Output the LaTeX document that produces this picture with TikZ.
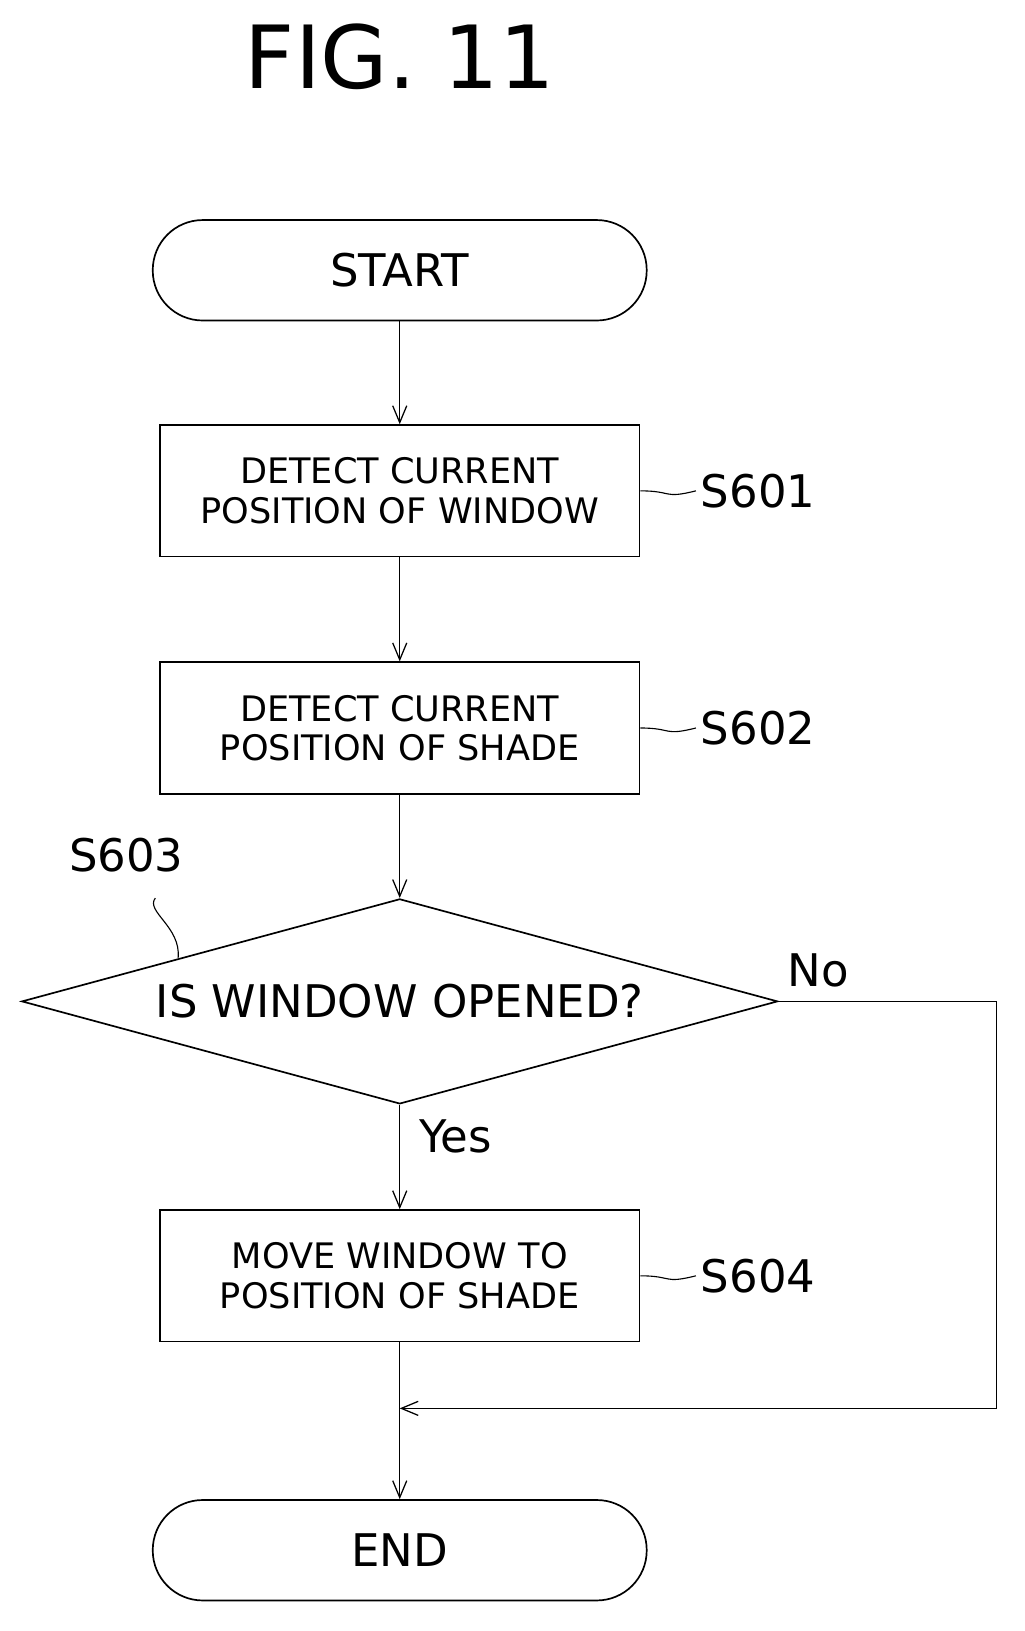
\documentclass[tikz,border=0pt]{standalone}
\usepackage{fontspec}
\setmainfont{DejaVu Sans}
\usetikzlibrary{positioning}
\usetikzlibrary{shapes.geometric,arrows.meta}
\begin{document}
\begin{tikzpicture}[x=0.0259cm,y=-0.0259cm,
	flow/.style={-{Straight Barb[length=12pt,width=10pt]},line width=0.9pt},
	procbox/.style={draw,line width=1.2pt,minimum width=463*0.0259cm,minimum height=127*0.0259cm,align=center,font=\fontsize{25}{28}\selectfont},
	term/.style={draw,line width=1.2pt,rounded corners=1.25cm,minimum width=477*0.0259cm,minimum height=97*0.0259cm,font=\fontsize{32}{34}\selectfont},
	tag/.style={font=\fontsize{32}{34}\selectfont}]

	% Proper size --- Bounding box
	\useasboundingbox (0,0) rectangle (989,1575);

	% Title
	\node[font=\fontsize{62}{64}\selectfont] (fig) at (386,55) {FIG. 11};

	% Nodes
	\node[term] (start) at (386,261) {START};
	\node[procbox] (S601) at (386,474) {DETECT CURRENT\\POSITION OF WINDOW};
	\node[procbox] (S602) at (386,703) {DETECT CURRENT\\POSITION OF SHADE};
	\node[draw,diamond,line width=1.2pt,aspect=3.7,minimum width=730*0.0259cm,minimum height=198*0.0259cm,inner sep=0pt,font=\fontsize{32}{34}\selectfont] (S603) at (386,967) {IS WINDOW OPENED?};
	\node[procbox] (S604) at (386,1232) {MOVE WINDOW TO\\POSITION OF SHADE};
	\node[term] (end) at (386,1497) {END};

	% Step labels
	\node[tag,anchor=west] (L601) at (672,474) {S601};
	\node[tag,anchor=west] (L602) at (672,703) {S602};
	\node[tag,anchor=west] (L604) at (672,1232) {S604};
	\node[tag] (L603) at (122,826) {S603};
	\node[tag] (no) at (790,937) {No};
	\node[tag] (yes) at (440,1097) {Yes};

	\draw[line width=0.8pt] (S601.east) .. controls (650,474) and (640,482) .. (L601.west);
	\draw[line width=0.8pt] (S602.east) .. controls (650,703) and (640,711) .. (L602.west);
	\draw[line width=0.8pt] (S604.east) .. controls (650,1232) and (640,1240) .. (L604.west);
	\draw[line width=0.8pt] (L603.south) ++(28,20) .. controls (140,880) and (175,895) .. (172,925);

	% Connectors
	\coordinate (join) at (386,1360);
	\coordinate (c1) at (962,967);
	\coordinate (c2) at (962,1360);
	\draw[flow] (start) -- (S601);
	\draw[flow] (S601) -- (S602);
	\draw[flow] (S602) -- (S603);
	\draw[flow] (S603) -- (S604);
	\draw[flow] (S604) -- (end);
	\draw[flow] (S603.east) -- (c1) -- (c2) -- (join);
\end{tikzpicture}
\end{document}
